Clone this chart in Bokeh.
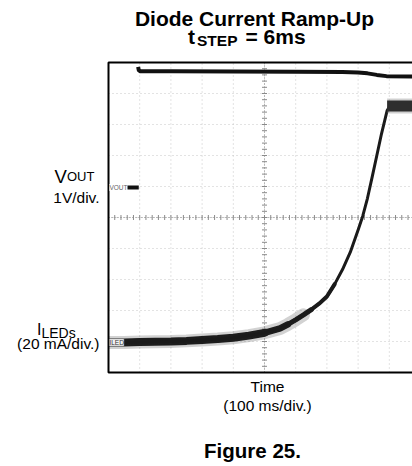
import numpy as np
from bokeh.plotting import figure
from bokeh.models import Label, Range1d
from bokeh.embed import file_html
from bokeh.resources import INLINE

# ---- data (scope divisions: x 0..10, y 0..10) ----
iled_x = [0.0, 0.5, 1.0, 1.5, 2.0, 2.5, 3.0, 3.5, 4.0, 4.5, 5.0, 5.5, 5.75, 6.0, 6.25,
          6.5, 6.75, 7.0, 7.25, 7.5, 7.75, 8.0, 8.15, 8.3, 8.45, 8.6, 8.75, 8.93, 9.0, 9.74]
iled_y = [0.97, 0.97, 0.98, 0.99, 1.0, 1.02, 1.05, 1.08, 1.12, 1.19, 1.28, 1.42, 1.55, 1.70, 1.86,
          2.03, 2.22, 2.45, 2.85, 3.32, 3.88, 4.60, 5.05, 5.62, 6.30, 7.00, 7.70, 8.45, 8.56, 8.56]
iled_top_x = [8.93, 9.74]
iled_top_y = [8.6, 8.6]

vout_gnd_x = [0.5, 0.97]
vout_gnd_y = [5.97, 5.97]
vout_x = [0.95, 0.97, 1.02, 2.0, 4.0, 6.0, 7.5, 8.0, 8.3, 8.6, 8.91, 9.74]
vout_y = [9.86, 9.75, 9.72, 9.72, 9.71, 9.70, 9.69, 9.68, 9.65, 9.60, 9.56, 9.55]

grid_ticks = list(range(11))

FONT = "Liberation Sans"

# canvas-wide frame; scope divisions placed at px = 108 + 31.2*x, py = 372 - 31*y
W, H = 412, 466
X0, DX = 108, 31.2
Y0, DY = 372, 31


def xd(px):
    return (px - X0) / DX


def yd(py):
    return (Y0 - py) / DY


p = figure(width=W, height=H, x_range=Range1d(xd(0), xd(W)), y_range=Range1d(yd(H), yd(0)),
           x_axis_location=None, y_axis_location=None, toolbar_location=None,
           output_backend="svg", min_border=0)
p.outline_line_color = None
p.background_fill_color = "white"
p.border_fill_color = "white"
p.grid.visible = False

# scope grid
p.multi_line(xs=[[t, t] for t in grid_ticks], ys=[[0, 10] for t in grid_ticks],
             line_color="#c6c6c6", line_dash="1 3", line_width=1)
p.multi_line(xs=[[0, 10] for t in grid_ticks], ys=[[t, t] for t in grid_ticks],
             line_color="#c6c6c6", line_dash="1 3", line_width=1)

# center cross with minor ticks
p.multi_line(xs=[[5, 5], [0, 10]], ys=[[0, 10], [5, 5]], line_color="#8a8a8a",
             line_dash="1 2", line_width=1)
minor = np.round(np.arange(0, 10.01, 0.2), 2)
p.scatter(x=[5] * len(minor), y=minor, marker="dash", size=5, line_color="#8a8a8a", line_width=1)
p.scatter(x=minor, y=[5] * len(minor), marker="dash", angle=np.pi / 2, size=5,
          line_color="#8a8a8a", line_width=1)

# ILED trace (noisy band, thicker where flat)
p.line(iled_x[:15], iled_y[:15], line_width=13, line_color="#6a6a6a", line_alpha=0.3, line_cap="round")
p.line(iled_x[:11], iled_y[:11], line_width=8, line_color="#1e1e1e", line_cap="round")
p.line(iled_x[:13], iled_y[:13], line_width=6.5, line_color="#1e1e1e", line_cap="round")
p.line(iled_x[:16], iled_y[:16], line_width=5, line_color="#1e1e1e", line_cap="round")
p.line(iled_x[:19], iled_y[:19], line_width=4, line_color="#1e1e1e", line_cap="round")
p.line(iled_x, iled_y, line_width=3, line_color="#1a1a1a", line_join="round")
p.line(iled_top_x, iled_top_y, line_width=15, line_color="#777777", line_alpha=0.35)
p.line(iled_top_x, iled_top_y, line_width=11, line_color="#2e2e2e")

# VOUT trace
p.line(vout_gnd_x, vout_gnd_y, line_width=4, line_color="#111111")
p.line(vout_x, vout_y, line_width=4, line_color="#111111", line_join="round")

# mask anything left of the screen area, then the border (left, top, bottom)
p.quad(left=xd(0), right=0, bottom=0.3, top=1.7, fill_color="white", line_color=None)
p.line(x=[10.5, 0, 0, 10.5], y=[10, 10, 0, 0], line_color="black", line_width=2)

# channel markers
p.add_layout(Label(x=0.03, y=vout_gnd_y[0], text="VOUT", text_font=FONT, text_font_size="6.5px",
                   text_color="#666666", text_baseline="middle", background_fill_color="white"))
p.add_layout(Label(x=0.03, y=iled_y[0], text="ILED", text_font=FONT, text_font_size="6.5px",
                   text_color="#333333", text_baseline="middle", background_fill_color="#f2f2f2",
                   border_line_color="#999999", border_line_width=0.5))

SHIFT = 6.5  # compensates the label baseline placement


def lab(text, px, py, size, bold=False, align="left"):
    p.add_layout(Label(x=xd(px), y=yd(py - SHIFT), text=text, text_font=FONT,
                       text_font_size=f"{size}px",
                       text_font_style="bold" if bold else "normal", text_align=align,
                       text_baseline="alphabetic", text_color="black"))


lab("Diode Current Ramp-Up", 254, 24, 21, bold=True, align="center")
lab("t", 187.5, 42.5, 21, bold=True)
lab("STEP", 196.5, 46, 15.5, bold=True)
lab("= 6ms", 245, 42.5, 21, bold=True)

lab("V", 54, 182, 18.5)
lab("OUT", 66.5, 182.5, 13)
lab("1V/div.", 99, 203, 15.5, align="right")
lab("I", 36.5, 335, 16)
lab("LEDs", 41, 338.5, 14)
lab("(20 mA/div.)", 99, 349, 15.5, align="right")

lab("Time", 267, 392, 15.5, align="center")
lab("(100 ms/div.)", 267, 411.5, 15.5, align="center")
lab("Figure 25.", 252, 456.5, 20.5, bold=True, align="center")

open("out.html", "w").write(file_html(p, INLINE))
